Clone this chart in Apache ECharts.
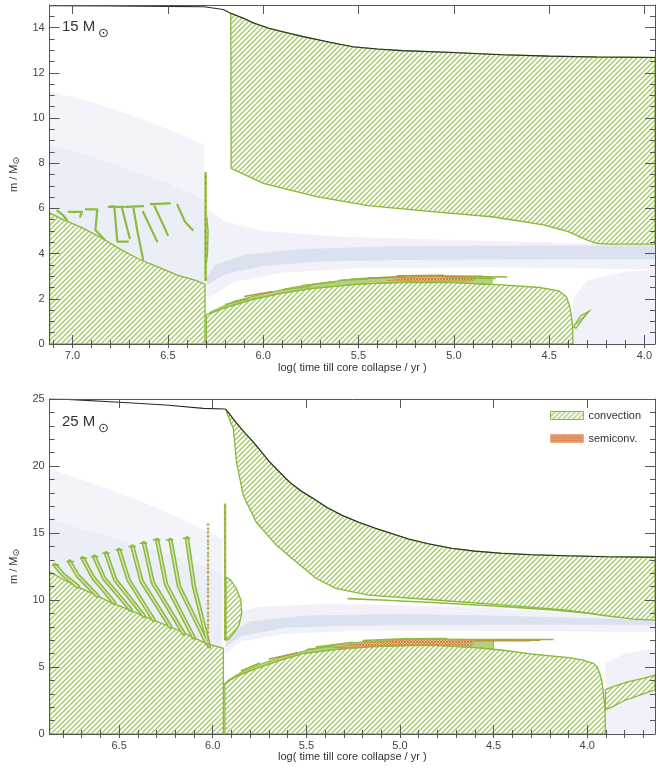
<!DOCTYPE html>
<html><head><meta charset="utf-8">
<script src="https://cdn.jsdelivr.net/npm/echarts@6/dist/echarts.min.js"></script>
<style>html,body{margin:0;padding:0;background:#fff}#c{width:656px;height:776px}</style>
</head><body><div id="c"></div>
<script>
// ================= DATA : 15 Msun panel =================
const xRange15 = [3.945, 7.12];
const yRange15 = [0, 15];
const xMajor15 = [4.0,4.5,5.0,5.5,6.0,6.5,7.0];
const xMinor15 = [4.0,4.1,4.2,4.3,4.4,4.5,4.6,4.7,4.8,4.9,5.0,5.1,5.2,5.3,5.4,5.5,5.6,5.7,5.8,5.9,6.0,6.1,6.2,6.3,6.4,6.5,6.6,6.7,6.8,6.9,7.0,7.1];
const yMajor15 = [0,2,4,6,8,10,12,14];
const yMinor15 = [0,0.5,1,1.5,2,2.5,3,3.5,4,4.5,5,5.5,6,6.5,7,7.5,8,8.5,9,9.5,10,10.5,11,11.5,12,12.5,13,13.5,14,14.5,15];

const surface15 = [[7.12,14.97],[6.8,14.96],[6.5,14.94],[6.31,14.92],[6.21,14.8],[6.17,14.63],[6.1,14.4],[6.05,14.2],[5.97,13.97],[5.88,13.78],[5.79,13.6],[5.65,13.35],[5.53,13.15],[5.4,13.05],[5.27,12.98],[5.01,12.9],[4.75,12.8],[4.5,12.74],[4.25,12.7],[3.945,12.68]];
const envBottom15 = [[6.168,7.77],[6.0,7.11],[5.72,6.52],[5.45,6.12],[5.1,5.85],[4.8,5.63],[4.53,5.27],[4.4,4.97],[4.3,4.6],[4.25,4.45],[4.18,4.42],[3.945,4.42]];
const hCore15 = [[7.12,0],[7.12,5.8],[7.05,5.5],[6.95,5.15],[6.85,4.7],[6.75,4.2],[6.65,3.75],[6.55,3.4],[6.45,3.05],[6.35,2.8],[6.305,2.65],[6.305,0]];
const heCore15 = [[6.298,0],[6.298,1.3],[6.2,1.6],[6.05,1.98],[5.9,2.25],[5.75,2.45],[5.5,2.65],[5.25,2.73],[5.0,2.72],[4.75,2.62],[4.55,2.5],[4.45,2.35],[4.41,2.1],[4.39,1.6],[4.378,0.9],[4.375,0]];
const carbon15 = [[4.372,0.75],[4.335,1.25],[4.29,1.45],[4.33,1.05],[4.36,0.7]];
const shell15 = [[6.28,1.4],[6.15,1.9],[6.0,2.22],[5.85,2.5],[5.7,2.7],[5.5,2.9],[5.3,2.98],[5.1,3.0],[4.95,2.98],[4.8,2.93],[4.8,2.62],[5.0,2.72],[5.25,2.73],[5.5,2.65],[5.75,2.45],[5.9,2.25],[6.05,1.98],[6.2,1.6],[6.28,1.35]];
const semi15 = [[5.35,2.8],[5.2,2.97],[5.0,3.02],[4.88,2.96],[4.9,2.8],[5.1,2.78]];
const spikes15 = [[[5.6,2.82],[5.45,2.88]],[[5.2,3.0],[4.85,3.0]],[[5.05,2.94],[4.78,2.9]],[[5.9,2.4],[5.75,2.55]],
 [[6.1,2.1],[5.95,2.32]],[[5.8,2.58],[5.62,2.75]],[[5.55,2.85],[5.35,2.94]],[[5.3,3.02],[5.05,3.04]],[[4.9,2.99],[4.72,2.97]],[[6.2,1.75],[6.08,2.0]],[[5.45,2.92],[5.25,2.97]]];
const strip15 = [[6.302,2.8],[6.302,7.6]];
const stripBulge15 = [[6.303,3.2],[6.292,4.0],[6.289,5.0],[6.296,5.6],[6.303,5.5]];
const flames15 = [
 [[7.08,5.9],[7.05,5.7],[7.03,5.5]],
 [[7.02,5.85],[6.95,5.85],[6.96,5.63]],
 [[6.93,5.96],[6.87,5.96],[6.88,5.04],[6.83,4.6]],
 [[6.81,6.07],[6.73,6.07]],
 [[6.78,6.0],[6.765,4.53],[6.71,4.53]],
 [[6.74,6.0],[6.70,4.68]],
 [[6.72,6.07],[6.63,6.1]],
 [[6.68,6.0],[6.66,5.0],[6.63,3.75]],
 [[6.63,5.85],[6.556,4.53]],
 [[6.59,6.19],[6.49,6.22]],
 [[6.57,6.1],[6.50,4.82]],
 [[6.45,6.15],[6.41,5.41],[6.37,5.04]]
];
const shadeOuter15 = [[7.12,0],[7.12,11.2],[6.9,10.7],[6.7,10.15],[6.5,9.5],[6.31,8.8],[6.31,0]];
const shadeInner15 = [[7.12,0],[7.12,8.8],[6.9,8.3],[6.7,7.7],[6.5,7.1],[6.31,6.4],[6.31,0]];
const halo15 = [[6.297,2.0],[6.15,2.75],[5.9,3.15],[5.5,3.35],[4.8,3.4],[3.945,3.3],[3.945,4.42],[4.3,4.45],[5.0,4.6],[5.6,4.75],[6.0,5.0],[6.2,5.4],[6.297,6.0]];
const band15 = [[6.295,2.6],[6.2,3.1],[6.0,3.45],[5.7,3.65],[5.3,3.72],[4.5,3.75],[3.945,3.75],[3.945,4.35],[4.5,4.36],[5.3,4.33],[5.8,4.2],[6.1,3.95],[6.25,3.5],[6.295,3.0]];
const lav15 = [[4.375,0],[4.375,2.0],[4.3,2.8],[4.1,3.2],[3.945,3.3],[3.945,0]];

// ================= DATA : 25 Msun panel =================
const xRange25 = [3.638, 6.871];
const yRange25 = [0, 25];
const xMajor25 = [4.0,4.5,5.0,5.5,6.0,6.5];
const xMinor25 = [3.7,3.8,3.9,4.0,4.1,4.2,4.3,4.4,4.5,4.6,4.7,4.8,4.9,5.0,5.1,5.2,5.3,5.4,5.5,5.6,5.7,5.8,5.9,6.0,6.1,6.2,6.3,6.4,6.5,6.6,6.7,6.8];
const yMajor25 = [0,5,10,15,20,25];
const yMinor25 = [0,1,2,3,4,5,6,7,8,9,10,11,12,13,14,15,16,17,18,19,20,21,22,23,24,25];

const surface25 = [[6.871,25.0],[6.775,24.97],[6.5,24.76],[6.25,24.55],[6.05,24.3],[5.934,24.25],[5.926,24.15],[5.917,24.0],[5.895,23.6],[5.873,23.2],[5.83,22.5],[5.784,21.8],[5.74,21.05],[5.696,20.3],[5.64,19.5],[5.59,18.8],[5.53,18.15],[5.466,17.6],[5.39,16.9],[5.307,16.3],[5.22,15.8],[5.131,15.35],[4.954,14.55],[4.85,14.2],[4.724,13.86],[4.6,13.65],[4.459,13.49],[4.3,13.38],[4.106,13.3],[3.9,13.23],[3.638,13.19]];
const envBottom25 = [[5.926,24.0],[5.89,22.8],[5.873,20.3],[5.837,17.8],[5.767,15.8],[5.661,14.1],[5.555,12.86],[5.449,11.62],[5.343,10.87],[5.166,10.37],[4.813,10.0],[4.459,9.63],[4.106,9.25],[3.93,8.88],[3.753,8.58],[3.638,8.5]];
const thinStrip25 = [[5.28,10.1],[5.1,10.0],[4.8,9.8],[4.5,9.55],[4.2,9.28],[3.95,8.95]];
const blob25 = [[5.929,7.0],[5.929,11.7],[5.905,11.5],[5.875,10.9],[5.85,10.0],[5.845,9.0],[5.86,8.1],[5.89,7.5],[5.915,7.1]];
const hCore25 = [[6.871,0],[6.871,12.1],[6.8,11.55],[6.723,11.0],[6.63,10.4],[6.542,9.8],[6.45,9.28],[6.367,8.8],[6.28,8.3],[6.192,7.8],[6.11,7.25],[6.033,6.75],[5.985,6.55],[5.943,6.4],[5.943,0]];
const heCore25 = [[5.935,0],[5.935,3.78],[5.873,4.3],[5.784,4.8],[5.65,5.45],[5.52,6.0],[5.35,6.3],[5.164,6.5],[4.95,6.6],[4.814,6.62],[4.6,6.45],[4.459,6.27],[4.284,5.95],[4.1,5.7],[4.02,5.52],[3.965,5.25],[3.947,5.0],[3.93,4.4],[3.92,3.8],[3.905,2.0],[3.903,0]];
const carbon25 = [[3.903,1.8],[3.903,3.3],[3.85,3.6],[3.78,3.9],[3.7,4.15],[3.638,4.4],[3.638,3.3],[3.7,3.0],[3.8,2.5],[3.87,2.0]];
const shell25 = [[5.92,4.0],[5.85,4.6],[5.75,5.2],[5.6,5.9],[5.45,6.4],[5.3,6.75],[5.1,7.0],[4.9,7.1],[4.7,7.08],[4.5,7.0],[4.5,6.35],[4.6,6.45],[4.814,6.62],[4.95,6.6],[5.164,6.5],[5.35,6.3],[5.52,6.0],[5.65,5.45],[5.784,4.8],[5.873,4.3],[5.92,3.9]];
const semi25 = [[5.35,6.45],[5.2,6.8],[5.0,7.0],[4.8,7.05],[4.6,6.98],[4.62,6.6],[4.85,6.7],[5.1,6.6],[5.3,6.4]];
const spikes25 = [[[4.7,7.05],[4.18,7.05]],[[4.6,6.95],[4.3,6.95]],[[4.95,7.1],[4.75,7.12]],[[5.5,6.3],[5.35,6.55]],
 [[5.7,5.6],[5.55,6.05]],[[5.45,6.5],[5.25,6.85]],[[5.2,6.98],[4.95,7.12]],[[4.5,7.02],[4.25,7.0]],[[5.85,4.7],[5.75,5.3]]];
const flames25 = [
 [[6.843,12.61],[6.8,11.9],[6.72,11.0]],
 [[6.765,12.86],[6.72,11.8],[6.615,10.3]],
 [[6.694,13.11],[6.64,11.7],[6.526,9.8]],
 [[6.632,13.23],[6.58,11.6],[6.438,9.28]],
 [[6.57,13.48],[6.52,11.5],[6.367,8.8]],
 [[6.5,13.73],[6.45,11.5],[6.315,8.5]],
 [[6.429,13.98],[6.38,11.4],[6.226,8.0]],
 [[6.367,14.23],[6.32,11.3],[6.155,7.5]],
 [[6.297,14.48],[6.25,11.2],[6.102,7.2]],
 [[6.226,14.48],[6.18,11.0],[6.032,6.8]],
 [[6.138,14.6],[6.1,11.0],[6.02,6.55]]
];
const flameTops25 = [
 [[6.86,12.62],[6.82,12.62]],[[6.78,12.87],[6.74,12.87]],[[6.71,13.12],[6.67,13.12]],
 [[6.65,13.24],[6.61,13.24]],[[6.59,13.49],[6.55,13.49]],[[6.52,13.74],[6.48,13.74]],
 [[6.45,13.99],[6.41,13.99]],[[6.39,14.24],[6.35,14.24]],[[6.32,14.49],[6.28,14.49]],
 [[6.25,14.49],[6.21,14.49]],[[6.16,14.6],[6.12,14.6]]
];
const stripA25 = [[5.934,7.0],[5.934,17.2]];
const stripB25 = [[6.025,6.6],[6.025,15.7]];
const shadeOuter25 = [[6.871,0],[6.871,19.8],[6.6,18.5],[6.3,16.9],[6.1,15.6],[5.95,14.6],[5.95,0]];
const shadeInner25 = [[6.871,0],[6.871,16.0],[6.6,14.9],[6.3,13.7],[6.1,12.8],[5.95,12.0],[5.95,0]];
const halo25 = [[5.935,6.0],[5.85,6.9],[5.6,7.5],[5.2,7.7],[4.5,7.7],[3.638,7.6],[3.638,8.5],[4.0,8.9],[4.5,9.4],[5.0,9.6],[5.4,9.7],[5.75,9.5],[5.9,9.0],[5.935,8.0]];
const band25 = [[5.932,6.5],[5.85,7.3],[5.6,7.95],[5.2,8.1],[4.5,8.15],[3.638,8.15],[3.638,8.5],[4.5,8.85],[5.0,8.95],[5.5,8.85],[5.8,8.4],[5.92,7.4]];
const lav25 = [[3.903,0],[3.903,5.3],[3.8,6.0],[3.638,6.4],[3.638,0]];

// ================= RENDERING =================
const FONT = '"Liberation Sans", Arial, sans-serif';
const AX = '#555';
const GREEN = '#86b83a';

function hatch(color, bg, size, lw, cross) {
  const c = document.createElement('canvas'); c.width = size; c.height = size;
  const g = c.getContext('2d');
  if (bg) { g.fillStyle = bg; g.fillRect(0, 0, size, size); }
  g.strokeStyle = color; g.lineWidth = lw;
  g.beginPath();
  g.moveTo(-1, size + 1); g.lineTo(size + 1, -1);
  g.moveTo(-1, 1); g.lineTo(1, -1);
  g.moveTo(size - 1, size + 1); g.lineTo(size + 1, size - 1);
  if (cross) {
    g.moveTo(-1, -1); g.lineTo(size + 1, size + 1);
    g.moveTo(size - 1, -1); g.lineTo(size + 1, 1);
    g.moveTo(-1, size - 1); g.lineTo(1, size + 1);
  }
  g.stroke();
  return { image: c, repeat: 'repeat' };
}
const HATCH = hatch('#a4ca6a', '#ffffff', 5, 1.4, false);
const SEMI = hatch('#d9703a', '#f2bd98', 3, 1, true);

function envelope(surface, bottom) {
  const x0 = bottom[0][0];
  const top = surface.filter(p => p[0] <= x0 + 0.002);
  return top.concat(bottom.slice().reverse());
}

function polySeries(gi, name, list, styleOf, z, extra) {
  return Object.assign({
    type: 'custom', name: name, xAxisIndex: gi * 4, yAxisIndex: gi * 4, z: z, silent: true,
    animation: false,
    data: list.map((p, i) => [p[0][0], p[0][1], i]),
    encode: { x: 0, y: 1 },
    renderItem: function (params, api) {
      const idx = params.dataIndex;
      const pts = list[idx].map(q => api.coord(q));
      const s = styleOf(idx);
      return { type: s.open ? 'polyline' : 'polygon', shape: { points: pts }, style: s.style };
    }
  }, extra || {});
}

function xAxes(gi, range, majors, minors, gap) {
  const base = { gridIndex: gi, type: 'value', inverse: true, min: range[0], max: range[1], z: 10, splitLine: { show: false } };
  const tick = (vals, len) => ({ show: true, inside: true, length: len, customValues: vals, lineStyle: { color: AX, width: 1 } });
  return [
    Object.assign({}, base, { position: 'bottom', axisLine: { show: true, onZero: false, lineStyle: { color: AX, width: 1 } }, axisTick: tick(majors, 9),
      axisLabel: { show: true, customValues: majors, formatter: v => Number(v).toFixed(1), margin: 6, fontSize: 11, color: '#444', fontFamily: FONT },
      name: 'log( time till core collapse / yr )', nameLocation: 'middle', nameGap: gap, nameTextStyle: { fontSize: 11, color: '#333', fontFamily: FONT } }),
    Object.assign({}, base, { position: 'bottom', axisLine: { show: false }, axisTick: tick(minors, 4), axisLabel: { show: false } }),
    Object.assign({}, base, { position: 'top', axisLine: { show: true, onZero: false, lineStyle: { color: AX, width: 1 } }, axisTick: tick(majors, 9), axisLabel: { show: false } }),
    Object.assign({}, base, { position: 'top', axisLine: { show: false }, axisTick: tick(minors, 4), axisLabel: { show: false } })
  ];
}
function yAxes(gi, range, majors, minors) {
  const base = { gridIndex: gi, type: 'value', min: range[0], max: range[1], z: 10, splitLine: { show: false } };
  const tick = (vals, len) => ({ show: true, inside: true, length: len, customValues: vals, lineStyle: { color: AX, width: 1 } });
  return [
    Object.assign({}, base, { position: 'left', axisLine: { show: true, onZero: false, lineStyle: { color: AX, width: 1 } }, axisTick: tick(majors, 10),
      axisLabel: { show: true, customValues: majors, margin: 5, fontSize: 11, color: '#444', fontFamily: FONT },
      name: '{a|m / M}{b|⊙}', nameLocation: 'middle', nameGap: 26, nameRotate: 90,
      nameTextStyle: { rich: { a: { fontSize: 11, color: '#333', fontFamily: FONT, lineHeight: 16 }, b: { fontSize: 9, color: '#333', fontFamily: 'DejaVu Sans', lineHeight: 10, verticalAlign: 'bottom' } } } }),
    Object.assign({}, base, { position: 'left', axisLine: { show: false }, axisTick: tick(minors, 5), axisLabel: { show: false } }),
    Object.assign({}, base, { position: 'right', axisLine: { show: true, onZero: false, lineStyle: { color: AX, width: 1 } }, axisTick: tick(majors, 10), axisLabel: { show: false } }),
    Object.assign({}, base, { position: 'right', axisLine: { show: false }, axisTick: tick(minors, 5), axisLabel: { show: false } })
  ];
}

function panelSeries(gi, d) {
  const s = [];
  // faint energy-generation shading
  const shadeFills = ['#f3f4fa', '#eceef7', '#f1f2f9', 'rgba(196,203,226,0.45)', '#f2f0f8'];
  s.push(polySeries(gi, 'shade', d.shades, i => ({ style: { fill: shadeFills[i], stroke: null } }), 1));
  // convective zones
  s.push(polySeries(gi, 'convection', d.conv, i => ({ style: { fill: HATCH, stroke: GREEN, lineWidth: 1.3 } }), 3,
    { itemStyle: { color: HATCH, borderColor: GREEN } }));
  // shell flashes above the core
  s.push(polySeries(gi, 'shell', [d.shell], i => ({ style: { fill: 'rgba(150,190,70,0.7)', stroke: '#8fbb3c', lineWidth: 1 } }), 4));
  s.push(polySeries(gi, 'semiconv.', [d.semi], i => ({ style: { fill: SEMI, stroke: '#d98a3a', lineWidth: 0.8, opacity: 0.85 } }), 5,
    { itemStyle: { color: SEMI } }));
  s.push(polySeries(gi, 'spikes', d.spikes, i => ({ open: true, style: { fill: null, stroke: i % 3 === 1 ? '#b8963a' : '#8fbb3c', lineWidth: 1.5 } }), 5));
  // intermittent shell convection ("flames")
  s.push(polySeries(gi, 'flames', d.flames, i => ({ open: true, style: { fill: null, stroke: '#8dbb40', lineWidth: d.flameW, lineJoin: 'round', lineCap: 'round' } }), 4));
  if (d.flameW > 3) {
    s.push(polySeries(gi, 'flamesIn', d.flames, i => ({ open: true, style: { fill: null, stroke: '#d5e8b4', lineWidth: 1.4, lineJoin: 'round' } }), 4));
  }
  s.push(polySeries(gi, 'extras', d.extras, i => ({ open: true, style: { fill: null, stroke: '#8dbb40', lineWidth: 1.6 } }), 4));
  s.push(polySeries(gi, 'stripG', d.strips, i => ({ open: true, style: { fill: null, stroke: '#9cc24e', lineWidth: 2.4, lineDash: i === 1 ? [2, 2] : null } }), 5));
  s.push(polySeries(gi, 'stripO', d.strips, i => ({ open: true, style: { fill: null, stroke: '#d97a30', lineWidth: 0.9, lineDash: [3, 3] } }), 6));
  // stellar surface
  s.push({ type: 'line', name: 'surface', xAxisIndex: gi * 4, yAxisIndex: gi * 4, data: d.surface, showSymbol: false, silent: true,
    lineStyle: { color: '#2a2a2a', width: 1.1 }, z: 7, animation: false });
  return s;
}

const p15 = {
  shades: [shadeOuter15, shadeInner15, halo15, band15, lav15],
  conv: [hCore15, heCore15, envelope(surface15, envBottom15), carbon15, stripBulge15],
  shell: shell15, semi: semi15, spikes: spikes15,
  flames: flames15, flameW: 2.2, extras: [[[6.8,6.1],[6.78,6.1]]],
  strips: [strip15, strip15],
  surface: surface15
};
const p25 = {
  shades: [shadeOuter25, shadeInner25, halo25, band25, lav25],
  conv: [hCore25, heCore25, envelope(surface25, envBottom25), carbon25, blob25],
  shell: shell25, semi: semi25, spikes: spikes25,
  flames: flames25, flameW: 4.5, extras: flameTops25.concat([thinStrip25]),
  strips: [stripA25, stripB25],
  surface: surface25
};

const chart = echarts.init(document.getElementById('c'), null, { renderer: 'canvas' });
chart.setOption({
  animation: false,
  backgroundColor: '#ffffff',
  grid: [
    { left: 45, top: 5, width: 610, height: 339 },
    { left: 45, top: 399, width: 610, height: 335 }
  ],
  xAxis: xAxes(0, xRange15, xMajor15, xMinor15, 18).concat(xAxes(1, xRange25, xMajor25, xMinor25, 17)),
  yAxis: yAxes(0, yRange15, yMajor15, yMinor15).concat(yAxes(1, yRange25, yMajor25, yMinor25)),
  legend: {
    left: 545, top: 405, orient: 'vertical', itemWidth: 33, itemHeight: 8, itemGap: 12,
    textStyle: { fontSize: 11, color: '#333', fontFamily: FONT },
    selectedMode: false,
    data: [
      { name: 'convection', icon: 'rect', itemStyle: { color: HATCH, borderColor: GREEN, borderWidth: 1 } },
      { name: 'semiconv.', icon: 'rect', itemStyle: { color: SEMI, borderColor: '#e09060', borderWidth: 0.5 } }
    ]
  },
  graphic: [
    { type: 'text', left: 62, top: 19, z: 20, style: { text: '15 M', fontSize: 15, fontFamily: FONT, fill: '#333' } },
    { type: 'text', left: 98, top: 27, z: 20, style: { text: '⊙', fontSize: 13, fontFamily: 'DejaVu Sans', fill: '#333' } },
    { type: 'text', left: 62, top: 414, z: 20, style: { text: '25 M', fontSize: 15, fontFamily: FONT, fill: '#333' } },
    { type: 'text', left: 98, top: 422, z: 20, style: { text: '⊙', fontSize: 13, fontFamily: 'DejaVu Sans', fill: '#333' } }
  ],
  series: panelSeries(0, p15).concat(panelSeries(1, p25))
});
</script>
</body></html>
